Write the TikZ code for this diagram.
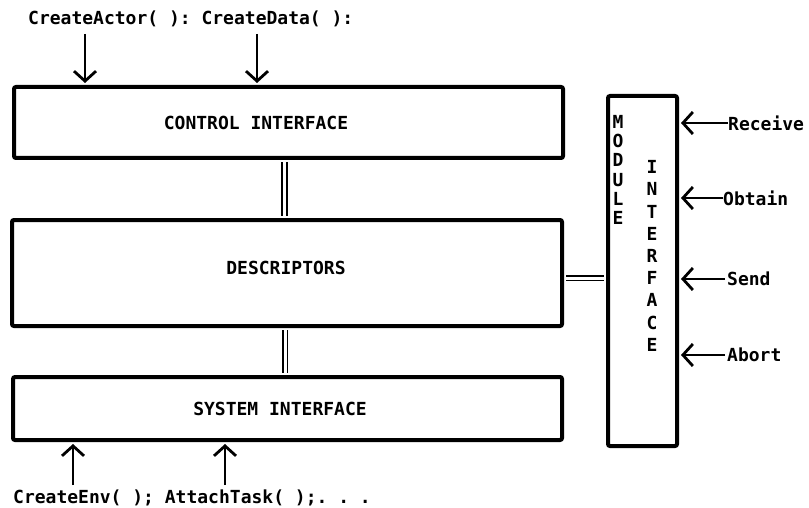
\documentclass[tikz,border=0pt]{standalone}
\usepackage{fontspec}
\setmonofont{DejaVu Sans Mono}
\usepackage{tikz}
\usetikzlibrary{arrows.meta}

\begin{document}
\begin{tikzpicture}[x=1pt,y=-1pt,
  box/.style={draw,line width=4pt,rounded corners=2pt,inner sep=0pt},
  lbl/.style={font=\fontsize{18}{20}\selectfont\ttfamily\bfseries,inner sep=0pt},
  feed/.style={line width=2.8pt,shorten >=2pt,-{Straight Barb[length=10pt,width=22pt]}},
  link/.style={double,line width=1.9pt,double distance=3pt,shorten <=2pt,shorten >=2pt}]
\useasboundingbox (0,0) rectangle (809,508);
% Boxes
\node[box,minimum width=549pt,minimum height=71pt] (control) at (288.5,122.5) {};
\node[box,minimum width=550pt,minimum height=106pt] (descr) at (287,273) {};
\node[box,minimum width=549pt,minimum height=63pt] (system) at (287.5,408.5) {};
\node[box,minimum width=69pt,minimum height=350pt] (module) at (642.5,271) {};
% Box names
\node[lbl] (controlname) at (256,123) {CONTROL INTERFACE};
\node[lbl] (descrname) at (286,268) {DESCRIPTORS};
\node[lbl] (systemname) at (280,409) {SYSTEM INTERFACE};
\node[font=\fontsize{18}{19.2}\selectfont\ttfamily\bfseries,inner sep=0pt,align=center] (modword) at (618,170) {M\\O\\D\\U\\L\\E};
\node[font=\fontsize{18}{22.2}\selectfont\ttfamily\bfseries,inner sep=0pt,align=center] (ifword) at (652,256) {I\\N\\T\\E\\R\\F\\A\\C\\E};
% Links between boxes
\draw[link] ([xshift=-4pt]control.south) -- ([xshift=-4pt]control.south |- descr.north);
\draw[link] ([xshift=-2pt]descr.south) -- ([xshift=-2pt]descr.south |- system.north);
\draw[link] ([yshift=-5pt]descr.east) -- ([yshift=-5pt]descr.east -| module.west);
% Calls on top
\node[lbl,anchor=base west] (topcalls) at (28,25) {CreateActor( ): CreateData( ):};
\coordinate (actorin) at (85,34);
\coordinate (datain) at (257,34);
\draw[feed] (actorin) -- (actorin |- control.north);
\draw[feed] (datain) -- (datain |- control.north);
% Calls below
\node[lbl,anchor=base west] (botcalls) at (13,503) {CreateEnv( ); AttachTask( );. . .};
\coordinate (envin) at (73,485);
\coordinate (taskin) at (225,485);
\draw[feed] (envin) -- (envin |- system.south);
\draw[feed] (taskin) -- (taskin |- system.south);
% Module calls
\node[lbl,anchor=west] (recv) at (728,123) {Receive};
\node[lbl,anchor=west] (obtain) at (723,198) {Obtain};
\node[lbl,anchor=west] (send) at (727,279) {Send};
\node[lbl,anchor=west] (abort) at (727,355) {Abort};
\draw[feed] (recv.west) -- (recv.west -| module.east);
\draw[feed] (obtain.west) -- (obtain.west -| module.east);
\draw[feed] ([xshift=-2pt]send.west) -- (send.west -| module.east);
\draw[feed] ([xshift=-2pt]abort.west) -- (abort.west -| module.east);
\end{tikzpicture}
\end{document}
